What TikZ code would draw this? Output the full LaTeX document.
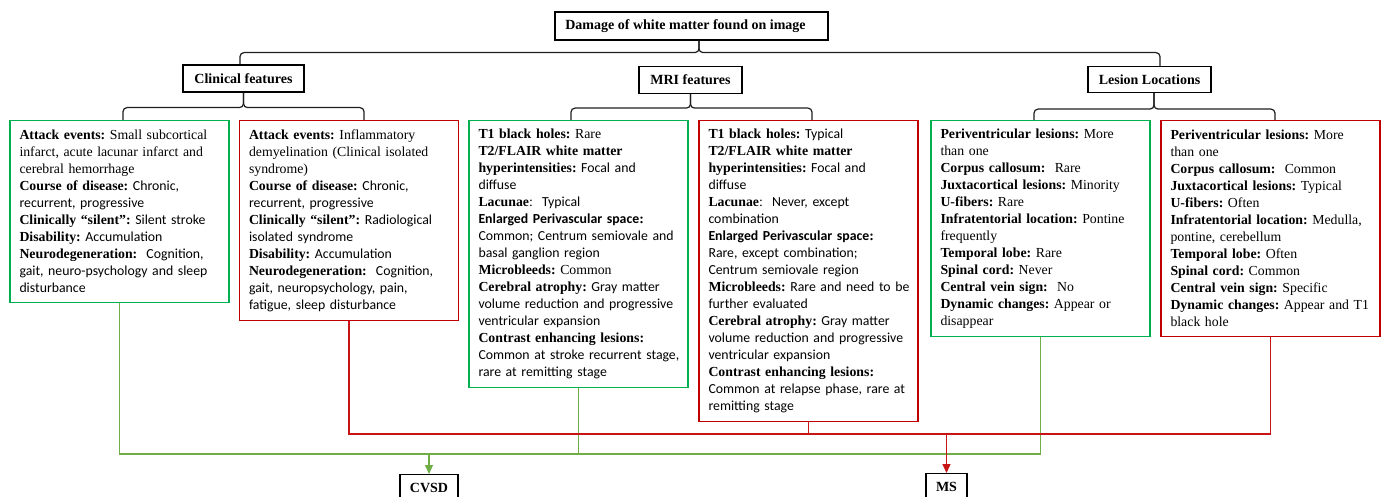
\documentclass[tikz,border=0pt]{standalone}
\usepackage{fontspec}
\setmainfont{Liberation Serif}
\setsansfont{Carlito}
\usepackage{xcolor}
\usetikzlibrary{arrows.meta}
\definecolor{cvgreen}{RGB}{0,176,80}
\definecolor{cvlgreen}{RGB}{112,173,71}
\definecolor{msred}{RGB}{192,0,0}
\definecolor{msline}{RGB}{200,20,20}
\definecolor{brgray}{RGB}{30,30,30}
\frenchspacing

\begin{document}
\begin{tikzpicture}[x=1pt, y=-1pt,
    every node/.style={font=\fontsize{13.8}{17}\selectfont},
    headbox/.style={draw=black, line width=1.2pt, inner sep=0pt, font=\fontsize{14}{17}\selectfont\bfseries},
    featbox/.style={line width=1.3pt, anchor=north, align=left, text width=212pt, inner xsep=3.5pt, inner ysep=0pt,
        execute at begin node={\leftskip=6pt\relax}},
    cvbox/.style={featbox, draw=cvgreen},
    msbox/.style={featbox, draw=msred},
    bracket/.style={draw=brgray, line width=1.2pt, rounded corners=4pt},
    gline/.style={draw=cvlgreen, line width=1.3pt},
    rline/.style={draw=msline, line width=1.3pt}]
    \useasboundingbox (0,0) rectangle (1387,497);

    % Top: the finding
    \node[headbox, minimum width=273pt, minimum height=28pt] (top) at (691.5,26) {Damage of white matter found on image\kern12pt};

    % Three groups of features
    \node[headbox, minimum width=121pt, minimum height=27pt] (clin) at (243.5,78.5) {Clinical features};
    \node[headbox, minimum width=103pt, minimum height=27pt] (mri) at (690.5,80) {MRI features};
    \node[headbox, minimum width=123pt, minimum height=26pt] (lesion) at (1149.5,79.5) {Lesion Locations};

    % Clinical features: CVSD (green) and MS (red)
    \node[cvbox, minimum height=182pt] (cvClin) at (119.5,120) {
        \textbf{Attack events:} Small subcortical\\
        infarct, acute lacunar infarct and\\
        cerebral hemorrhage\\
        \textbf{Course of disease:} \textsf{Chronic,}\\
        \textsf{recurrent, progressive}\\
        \textbf{Clinically ``silent'':} \textsf{Silent stroke}\\
        \textbf{Disability:} \textsf{Accumulation}\\
        \textbf{Neurodegeneration:} \ \textsf{Cognition,}\\
        \textsf{gait, neuro-psychology and sleep}\\
        \textsf{disturbance}
    };
    \node[msbox, minimum height=200pt] (msClin) at (349,120) {
        \textbf{Attack events:} Inflammatory\\
        demyelination (Clinical isolated\\
        syndrome)\\
        \textbf{Course of disease:} \textsf{Chronic,}\\
        \textsf{recurrent, progressive}\\
        \textbf{Clinically ``silent'':} \textsf{Radiological}\\
        \textsf{isolated syndrome}\\
        \textbf{Disability:} \textsf{Accumulation}\\
        \textbf{Neurodegeneration:} \ \textsf{Cognition,}\\
        \textsf{gait, neuropsychology, pain,}\\
        \textsf{fatigue, sleep disturbance}
    };

    % MRI features
    \node[cvbox, minimum height=267pt] (cvMri) at (578.5,120) {
        \textbf{T1 black holes:} Rare\\
        \textbf{T2/FLAIR white matter}\\
        \textbf{hyperintensities:} \textsf{Focal and}\\
        \textsf{diffuse}\\
        \textbf{Lacunae}: \ \textsf{Typical}\\
        \textsf{\textbf{Enlarged Perivascular space}}\textbf{:}\\
        \textsf{Common; Centrum semiovale and}\\
        \textsf{basal ganglion region}\\
        \textbf{Microbleeds:} Common\\
        \textbf{Cerebral atrophy:} \textsf{Gray matter}\\
        \textsf{volume reduction and progressive}\\
        \textsf{ventricular expansion}\\
        \textbf{Contrast enhancing lesions:}\\
        \textsf{Common at stroke recurrent stage,}\\
        \textsf{rare at remitting stage}
    };
    \node[msbox, minimum height=301pt] (msMri) at (808.5,120) {
        \textbf{T1 black holes:} \textsf{Typical}\\
        \textbf{T2/FLAIR white matter}\\
        \textbf{hyperintensities:} \textsf{Focal and}\\
        \textsf{diffuse}\\
        \textbf{Lacunae}: \ \textsf{Never, except}\\
        \textsf{combination}\\
        \textsf{\textbf{Enlarged Perivascular space}}\textbf{:}\\
        \textsf{Rare, except combination;}\\
        \textsf{Centrum semiovale region}\\
        \textbf{Microbleeds:} \textsf{Rare and need to be}\\
        \textsf{further evaluated}\\
        \textbf{Cerebral atrophy:} \textsf{Gray matter}\\
        \textsf{volume reduction and progressive}\\
        \textsf{ventricular expansion}\\
        \textbf{Contrast enhancing lesions:}\\
        \textsf{Common at relapse phase, rare at}\\
        \textsf{remitting stage}
    };

    % Lesion locations
    \node[cvbox, minimum height=216pt] (cvLes) at (1040.5,120) {
        \textbf{Periventricular lesions:} More\\
        than one\\
        \textbf{Corpus callosum:} \ Rare\\
        \textbf{Juxtacortical lesions:} Minority\\
        \textbf{U-fibers:} Rare\\
        \textbf{Infratentorial location:} Pontine\\
        frequently\\
        \textbf{Temporal lobe:} Rare\\
        \textbf{Spinal cord:} Never\\
        \textbf{Central vein sign:} \ No\\
        \textbf{Dynamic changes:} Appear or\\
        disappear
    };
    \node[msbox, minimum height=216pt] (msLes) at (1270.5,120) {
        \textbf{Periventricular lesions:} More\\
        than one\\
        \textbf{Corpus callosum:} \ Common\\
        \textbf{Juxtacortical lesions:} Typical\\
        \textbf{U-fibers:} Often\\
        \textbf{Infratentorial location:} Medulla,\\
        pontine, cerebellum\\
        \textbf{Temporal lobe:} Often\\
        \textbf{Spinal cord:} Common\\
        \textbf{Central vein sign:} Specific\\
        \textbf{Dynamic changes:} Appear and T1\\
        black hole
    };

    % Diagnoses (cut by the bottom edge)
    \node[headbox, anchor=north, minimum width=58pt, minimum height=27pt] (cvsd) at (429,474) {CVSD};
    \node[headbox, anchor=north, minimum width=41pt, minimum height=27pt] (ms) at (946.5,473) {MS};

    % Braces
    \draw[bracket] ([xshift=-3.5pt]clin.north) |- ([xshift=7.5pt,yshift=-12pt]top.south) -- ([xshift=7.5pt]top.south);
    \draw[bracket] ([xshift=10.5pt]lesion.north) |- ([xshift=7.5pt,yshift=-12pt]top.south) -- ([xshift=7.5pt]top.south);

    \draw[bracket] ([xshift=3.5pt]cvClin.north) |- ([yshift=-15pt]clin.south) -- (clin.south);
    \draw[bracket] ([xshift=15pt]msClin.north) |- ([yshift=-15pt]clin.south) -- (clin.south);

    \draw[bracket] ([xshift=-7.5pt]cvMri.north) |- ([yshift=-14pt]mri.south) -- (mri.south);
    \draw[bracket] ([xshift=3.5pt]msMri.north) |- ([yshift=-14pt]mri.south) -- (mri.south);

    \draw[bracket] ([xshift=-6.5pt]cvLes.north) |- ([xshift=4.5pt,yshift=-16pt]lesion.south) -- ([xshift=4.5pt]lesion.south);
    \draw[bracket] ([xshift=4.5pt]msLes.north) |- ([xshift=4.5pt,yshift=-16pt]lesion.south) -- ([xshift=4.5pt]lesion.south);

    % Green: towards CVSD
    \draw[gline] (cvClin.south) |- ([yshift=20pt]cvsd.north);
    \draw[gline] (cvMri.south) |- ([yshift=20pt]cvsd.north);
    \draw[gline] (cvLes.south) |- ([yshift=20pt]cvsd.north);
    \draw[gline, -{Triangle[width=8pt,length=9pt]}] ([yshift=20pt]cvsd.north) -- (cvsd.north);

    % Red: towards MS
    \draw[rline] (msClin.south) |- ([yshift=39pt]ms.north);
    \draw[rline] (msMri.south) |- ([yshift=39pt]ms.north);
    \draw[rline] (msLes.south) |- ([yshift=39pt]ms.north);
    \draw[rline, -{Triangle[width=8pt,length=9pt]}] ([yshift=39pt]ms.north) -- (ms.north);
\end{tikzpicture}
\end{document}
